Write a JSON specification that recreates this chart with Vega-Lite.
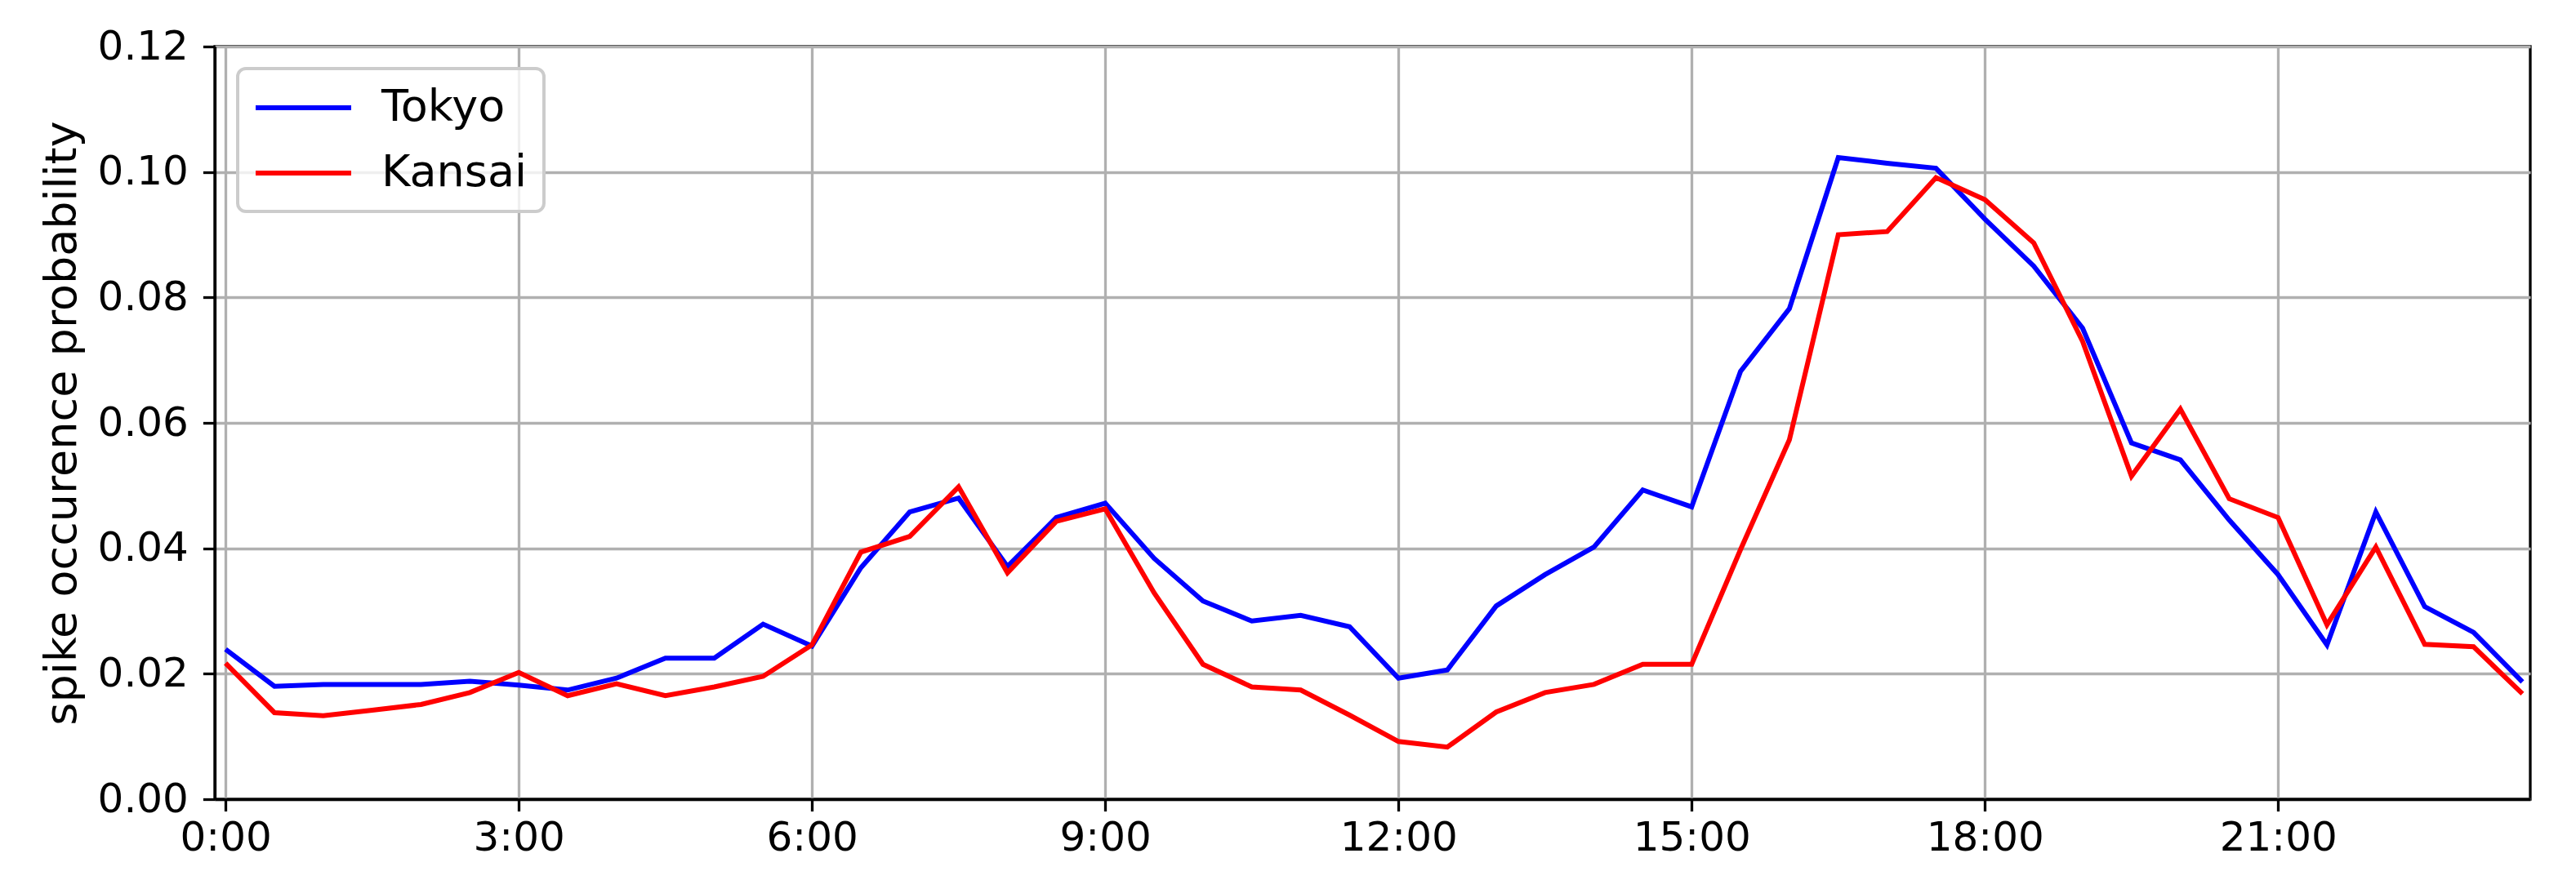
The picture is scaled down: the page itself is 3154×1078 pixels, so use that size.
{
  "$schema": "https://vega.github.io/schema/vega-lite/v6.json",
  "width": 2835,
  "height": 922,
  "autosize": {"type": "none"},
  "padding": {"left": 263, "top": 57, "right": 56, "bottom": 99},
  "background": "white",
  "data": {
    "values": [
      {"t": 0, "region": "Tokyo", "p": 0.0239},
      {"t": 0.5, "region": "Tokyo", "p": 0.0180},
      {"t": 1, "region": "Tokyo", "p": 0.0183},
      {"t": 1.5, "region": "Tokyo", "p": 0.0183},
      {"t": 2, "region": "Tokyo", "p": 0.0183},
      {"t": 2.5, "region": "Tokyo", "p": 0.0188},
      {"t": 3, "region": "Tokyo", "p": 0.0182},
      {"t": 3.5, "region": "Tokyo", "p": 0.0174},
      {"t": 4, "region": "Tokyo", "p": 0.0193},
      {"t": 4.5, "region": "Tokyo", "p": 0.0225},
      {"t": 5, "region": "Tokyo", "p": 0.0225},
      {"t": 5.5, "region": "Tokyo", "p": 0.0279},
      {"t": 6, "region": "Tokyo", "p": 0.0244},
      {"t": 6.5, "region": "Tokyo", "p": 0.0369},
      {"t": 7, "region": "Tokyo", "p": 0.0458},
      {"t": 7.5, "region": "Tokyo", "p": 0.0480},
      {"t": 8, "region": "Tokyo", "p": 0.0371},
      {"t": 8.5, "region": "Tokyo", "p": 0.0449},
      {"t": 9, "region": "Tokyo", "p": 0.0472},
      {"t": 9.5, "region": "Tokyo", "p": 0.0384},
      {"t": 10, "region": "Tokyo", "p": 0.0316},
      {"t": 10.5, "region": "Tokyo", "p": 0.0284},
      {"t": 11, "region": "Tokyo", "p": 0.0293},
      {"t": 11.5, "region": "Tokyo", "p": 0.0275},
      {"t": 12, "region": "Tokyo", "p": 0.0193},
      {"t": 12.5, "region": "Tokyo", "p": 0.0206},
      {"t": 13, "region": "Tokyo", "p": 0.0308},
      {"t": 13.5, "region": "Tokyo", "p": 0.0358},
      {"t": 14, "region": "Tokyo", "p": 0.0402},
      {"t": 14.5, "region": "Tokyo", "p": 0.0493},
      {"t": 15, "region": "Tokyo", "p": 0.0466},
      {"t": 15.5, "region": "Tokyo", "p": 0.0682},
      {"t": 16, "region": "Tokyo", "p": 0.0782},
      {"t": 16.5, "region": "Tokyo", "p": 0.1023},
      {"t": 17, "region": "Tokyo", "p": 0.1014},
      {"t": 17.5, "region": "Tokyo", "p": 0.1006},
      {"t": 18, "region": "Tokyo", "p": 0.0925},
      {"t": 18.5, "region": "Tokyo", "p": 0.0850},
      {"t": 19, "region": "Tokyo", "p": 0.0751},
      {"t": 19.5, "region": "Tokyo", "p": 0.0568},
      {"t": 20, "region": "Tokyo", "p": 0.0541},
      {"t": 20.5, "region": "Tokyo", "p": 0.0445},
      {"t": 21, "region": "Tokyo", "p": 0.0358},
      {"t": 21.5, "region": "Tokyo", "p": 0.0246},
      {"t": 22, "region": "Tokyo", "p": 0.0458},
      {"t": 22.5, "region": "Tokyo", "p": 0.0307},
      {"t": 23, "region": "Tokyo", "p": 0.0266},
      {"t": 23.5, "region": "Tokyo", "p": 0.0187},
      {"t": 0, "region": "Kansai", "p": 0.0217},
      {"t": 0.5, "region": "Kansai", "p": 0.0138},
      {"t": 1, "region": "Kansai", "p": 0.0133},
      {"t": 1.5, "region": "Kansai", "p": 0.0142},
      {"t": 2, "region": "Kansai", "p": 0.0151},
      {"t": 2.5, "region": "Kansai", "p": 0.0170},
      {"t": 3, "region": "Kansai", "p": 0.0202},
      {"t": 3.5, "region": "Kansai", "p": 0.0165},
      {"t": 4, "region": "Kansai", "p": 0.0184},
      {"t": 4.5, "region": "Kansai", "p": 0.0165},
      {"t": 5, "region": "Kansai", "p": 0.0179},
      {"t": 5.5, "region": "Kansai", "p": 0.0196},
      {"t": 6, "region": "Kansai", "p": 0.0246},
      {"t": 6.5, "region": "Kansai", "p": 0.0394},
      {"t": 7, "region": "Kansai", "p": 0.0419},
      {"t": 7.5, "region": "Kansai", "p": 0.0498},
      {"t": 8, "region": "Kansai", "p": 0.0361},
      {"t": 8.5, "region": "Kansai", "p": 0.0443},
      {"t": 9, "region": "Kansai", "p": 0.0463},
      {"t": 9.5, "region": "Kansai", "p": 0.0329},
      {"t": 10, "region": "Kansai", "p": 0.0215},
      {"t": 10.5, "region": "Kansai", "p": 0.0179},
      {"t": 11, "region": "Kansai", "p": 0.0174},
      {"t": 11.5, "region": "Kansai", "p": 0.0134},
      {"t": 12, "region": "Kansai", "p": 0.0092},
      {"t": 12.5, "region": "Kansai", "p": 0.0083},
      {"t": 13, "region": "Kansai", "p": 0.0139},
      {"t": 13.5, "region": "Kansai", "p": 0.0170},
      {"t": 14, "region": "Kansai", "p": 0.0183},
      {"t": 14.5, "region": "Kansai", "p": 0.0215},
      {"t": 15, "region": "Kansai", "p": 0.0215},
      {"t": 15.5, "region": "Kansai", "p": 0.0398},
      {"t": 16, "region": "Kansai", "p": 0.0573},
      {"t": 16.5, "region": "Kansai", "p": 0.0900},
      {"t": 17, "region": "Kansai", "p": 0.0905},
      {"t": 17.5, "region": "Kansai", "p": 0.0991},
      {"t": 18, "region": "Kansai", "p": 0.0956},
      {"t": 18.5, "region": "Kansai", "p": 0.0887},
      {"t": 19, "region": "Kansai", "p": 0.0730},
      {"t": 19.5, "region": "Kansai", "p": 0.0515},
      {"t": 20, "region": "Kansai", "p": 0.0622},
      {"t": 20.5, "region": "Kansai", "p": 0.0479},
      {"t": 21, "region": "Kansai", "p": 0.0449},
      {"t": 21.5, "region": "Kansai", "p": 0.0278},
      {"t": 22, "region": "Kansai", "p": 0.0402},
      {"t": 22.5, "region": "Kansai", "p": 0.0247},
      {"t": 23, "region": "Kansai", "p": 0.0243},
      {"t": 23.5, "region": "Kansai", "p": 0.0168}
    ]
  },
  "mark": {"type": "line", "strokeWidth": 6, "clip": true},
  "encoding": {
    "x": {
      "field": "t",
      "type": "quantitative",
      "scale": {"domain": [-0.11, 23.58], "nice": false, "zero": false},
      "axis": {
        "title": null,
        "values": [0, 3, 6, 9, 12, 15, 18, 21],
        "labelExpr": "datum.value + ':00'",
        "labelPadding": 8
      }
    },
    "y": {
      "field": "p",
      "type": "quantitative",
      "scale": {"domain": [0, 0.12], "nice": false},
      "axis": {
        "title": "spike occurence probability",
        "values": [0, 0.02, 0.04, 0.06, 0.08, 0.1, 0.12],
        "format": ".2f",
        "labelPadding": 18,
        "titleX": -171,
        "titleY": 461,
        "titleAngle": 270,
        "titleBaseline": "alphabetic",
        "titleAlign": "center",
        "titleFontSize": 54
      }
    },
    "color": {
      "field": "region",
      "type": "nominal",
      "sort": ["Tokyo", "Kansai"],
      "scale": {"domain": ["Tokyo", "Kansai"], "range": ["#0000ff", "#ff0000"]},
      "legend": {
        "title": null,
        "orient": "none",
        "legendX": 28,
        "legendY": 27,
        "symbolType": "M-1.04,0H3.64",
        "symbolSize": 2500,
        "symbolStrokeWidth": 6,
        "labelFontSize": 54,
        "labelLimit": 500,
        "labelOffset": 100,
        "padding": 20,
        "rowPadding": 25,
        "strokeColor": "#cccccc",
        "cornerRadius": 10,
        "fillColor": "rgba(255,255,255,0.8)",
        "encode": {"legend": {"update": {"strokeWidth": {"value": 4}}}}
      }
    }
  },
  "config": {
    "font": "DejaVu Sans",
    "view": {"stroke": "black", "strokeWidth": 3.3},
    "axis": {
      "labelFont": "DejaVu Sans",
      "titleFont": "DejaVu Sans",
      "labelFontSize": 50,
      "labelColor": "black",
      "titleColor": "black",
      "titleFontWeight": "normal",
      "domainColor": "black",
      "domainWidth": 3.3,
      "tickColor": "black",
      "tickWidth": 3.3,
      "tickSize": 14.6,
      "grid": true,
      "gridColor": "#b0b0b0",
      "gridWidth": 3.3,
      "labelFlush": false,
      "labelOverlap": false
    },
    "legend": {
      "labelFont": "DejaVu Sans",
      "labelColor": "black"
    }
  }
}
